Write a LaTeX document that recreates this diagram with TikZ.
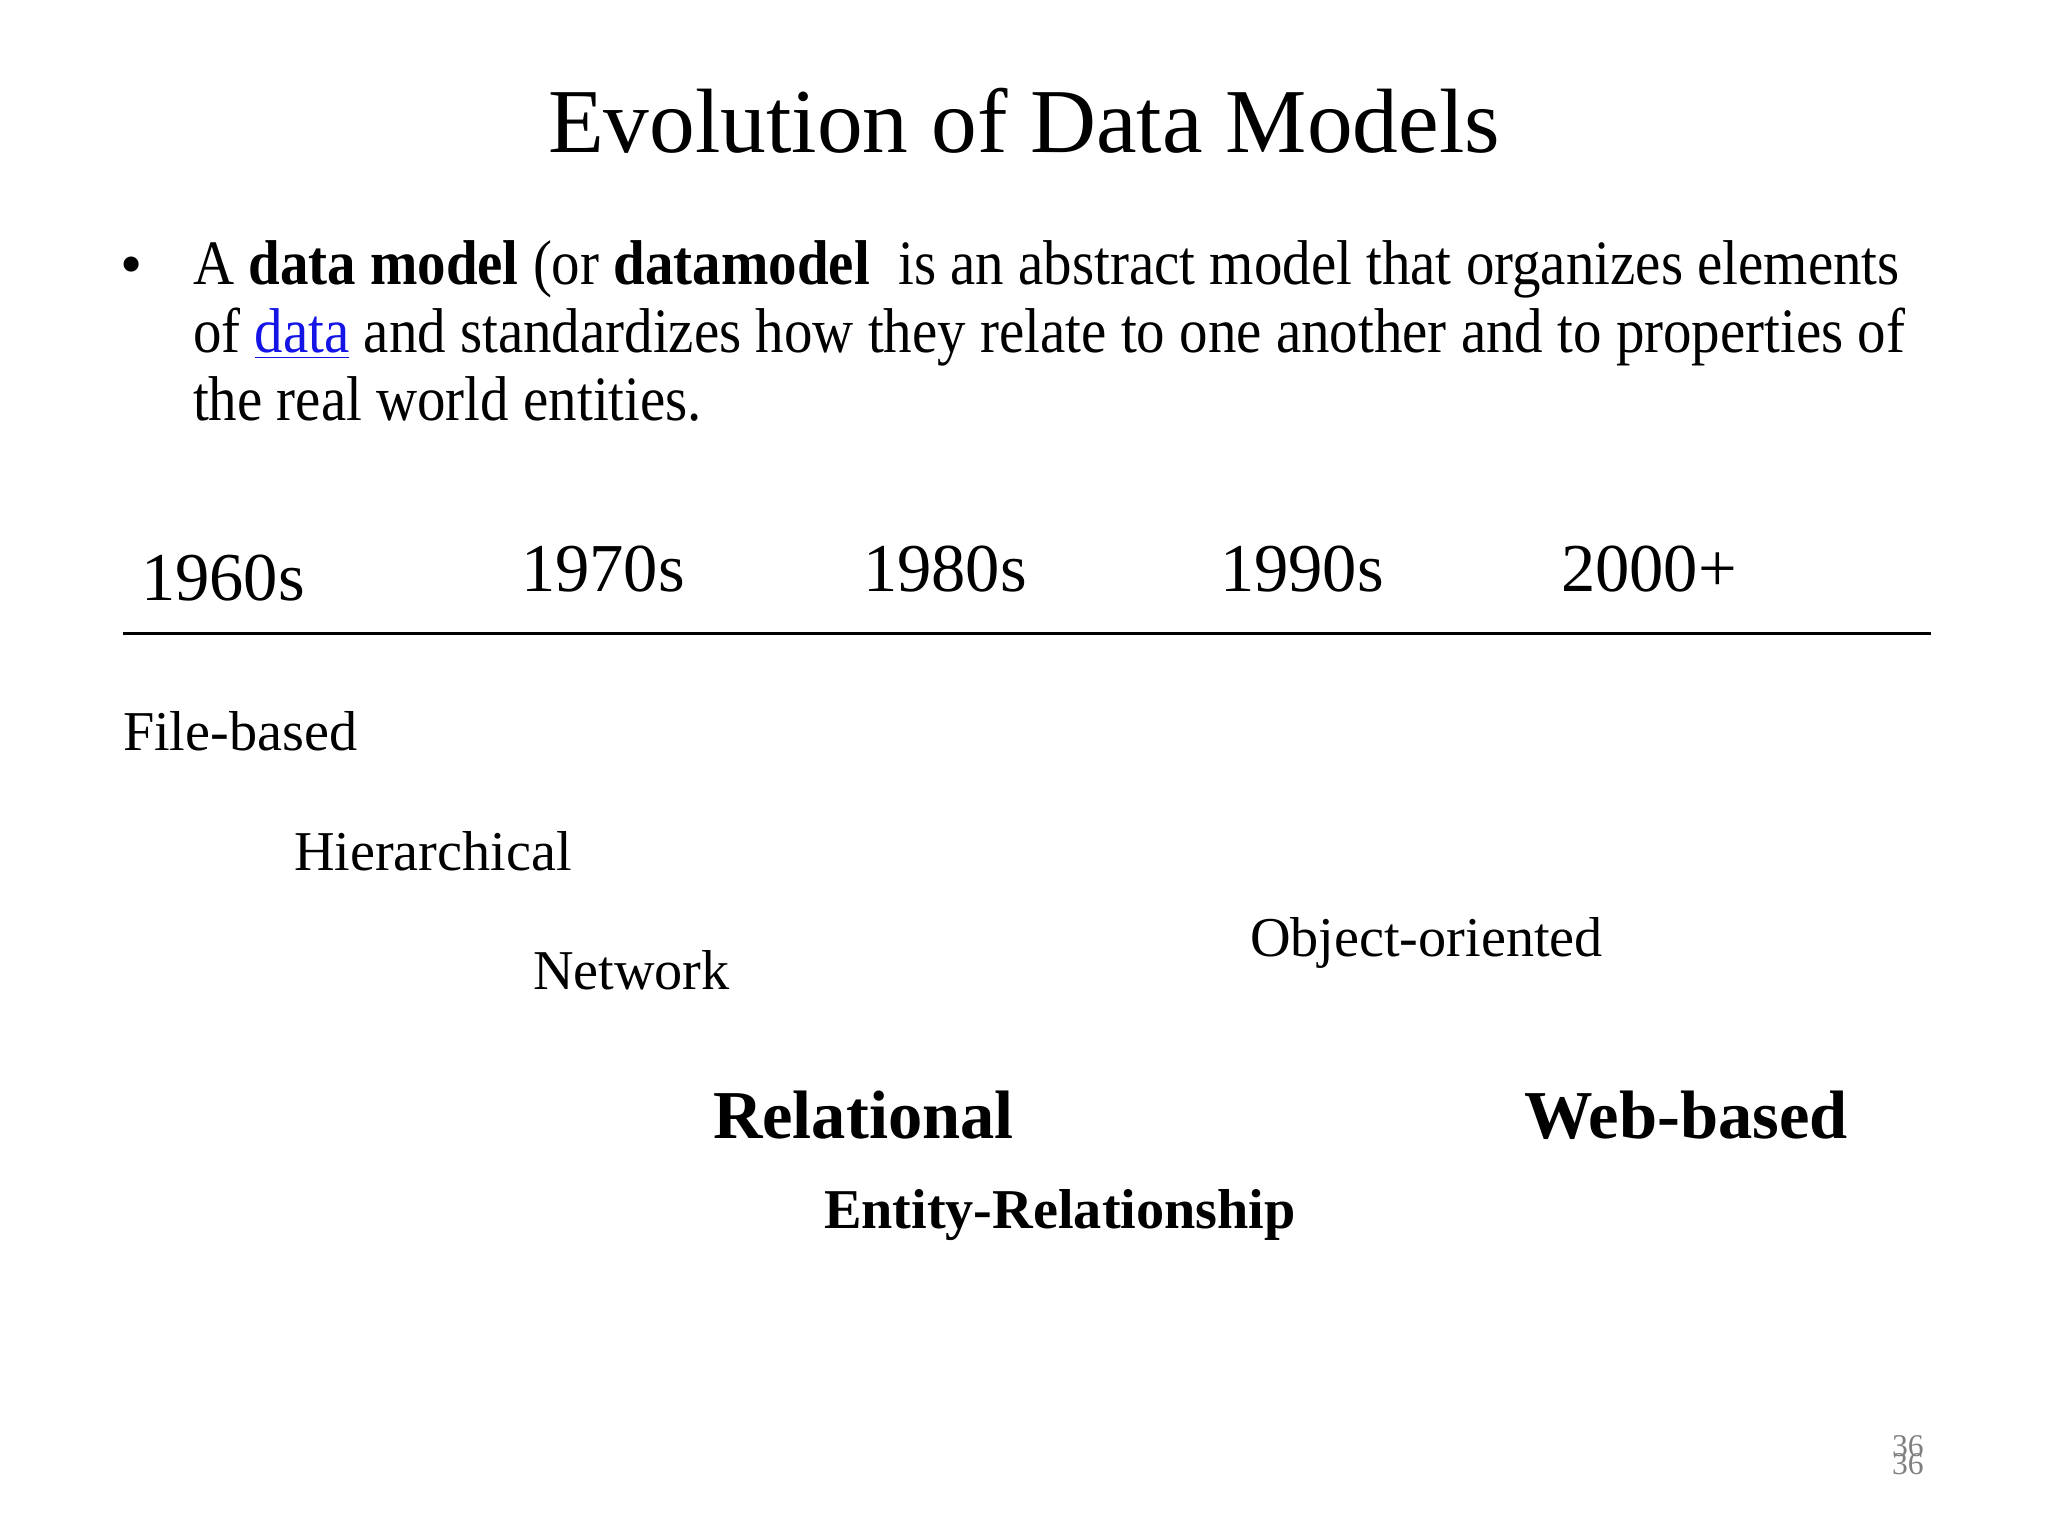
\documentclass[tikz,border=0pt]{standalone}
\usepackage{fontspec}
\setmainfont{Liberation Serif}
\newfontfamily\bodyfont[FakeStretch=0.9]{Liberation Serif}
\definecolor{linkblue}{RGB}{20,20,230}
\definecolor{pagegray}{RGB}{128,128,128}
\tikzset{
  lbl/.style={anchor=base west, inner sep=0pt, outer sep=0pt},
  title/.style={anchor=base, inner sep=0pt, font=\fontsize{26}{30}\selectfont},
  body/.style={lbl, font=\bodyfont\fontsize{18}{19.4}\selectfont, align=left},
  year/.style={lbl, font=\fontsize{19.5}{22}\selectfont},
  model/.style={lbl, font=\fontsize{16}{19}\selectfont},
  bigmodel/.style={lbl, font=\fontsize{19.5}{22}\selectfont\bfseries},
  midmodel/.style={lbl, font=\fontsize{16}{19}\selectfont\bfseries},
  pnum/.style={lbl, font=\fontsize{9}{10}\selectfont, text=pagegray},
}
\begin{document}
\begin{tikzpicture}[x=0.1mm, y=-0.1mm]
\useasboundingbox (0,0) rectangle (2048,1536);
\node[title] (ttl) at (1024,152) {Evolution of Data Models};
\node[lbl, font=\fontsize{18}{19.4}\selectfont] (bul) at (120,285) {\textbullet};
\node[body] (l1) at (193,284) {A \textbf{data model} (or \textbf{datamodel}\ \ is an abstract model that organizes elements};
\node[body] (l2) at (193,352) {of \textcolor{linkblue}{\underline{data}} and standardizes how they relate to one another and to properties of};
\node[body] (l3) at (193,420) {the real world entities.};
\node[year] (y60) at (141,600) {1960s};
\node[year] (y70) at (521,591) {1970s};
\node[year] (y80) at (863,591) {1980s};
\node[year] (y90) at (1220,591) {1990s};
\node[year] (y00) at (1561,591) {2000+};
\coordinate (tlA) at (123,633);
\coordinate (tlB) at (1931,633);
\draw[line width=0.3mm] (tlA) -- (tlB);
\node[model] (fb) at (123,750) {File-based};
\node[model] (hi) at (294,870) {Hierarchical};
\node[model] (nw) at (533,989) {Network};
\node[model] (oo) at (1250,956) {Object-oriented};
\node[bigmodel] (rel) at (713,1138) {Relational};
\node[bigmodel] (web) at (1524,1138) {Web-based};
\node[midmodel] (er) at (824,1228) {Entity-Relationship};
\node[pnum] (pn1) at (1892,1456) {36};
\node[pnum] (pn2) at (1892,1474) {36};
\end{tikzpicture}
\end{document}
